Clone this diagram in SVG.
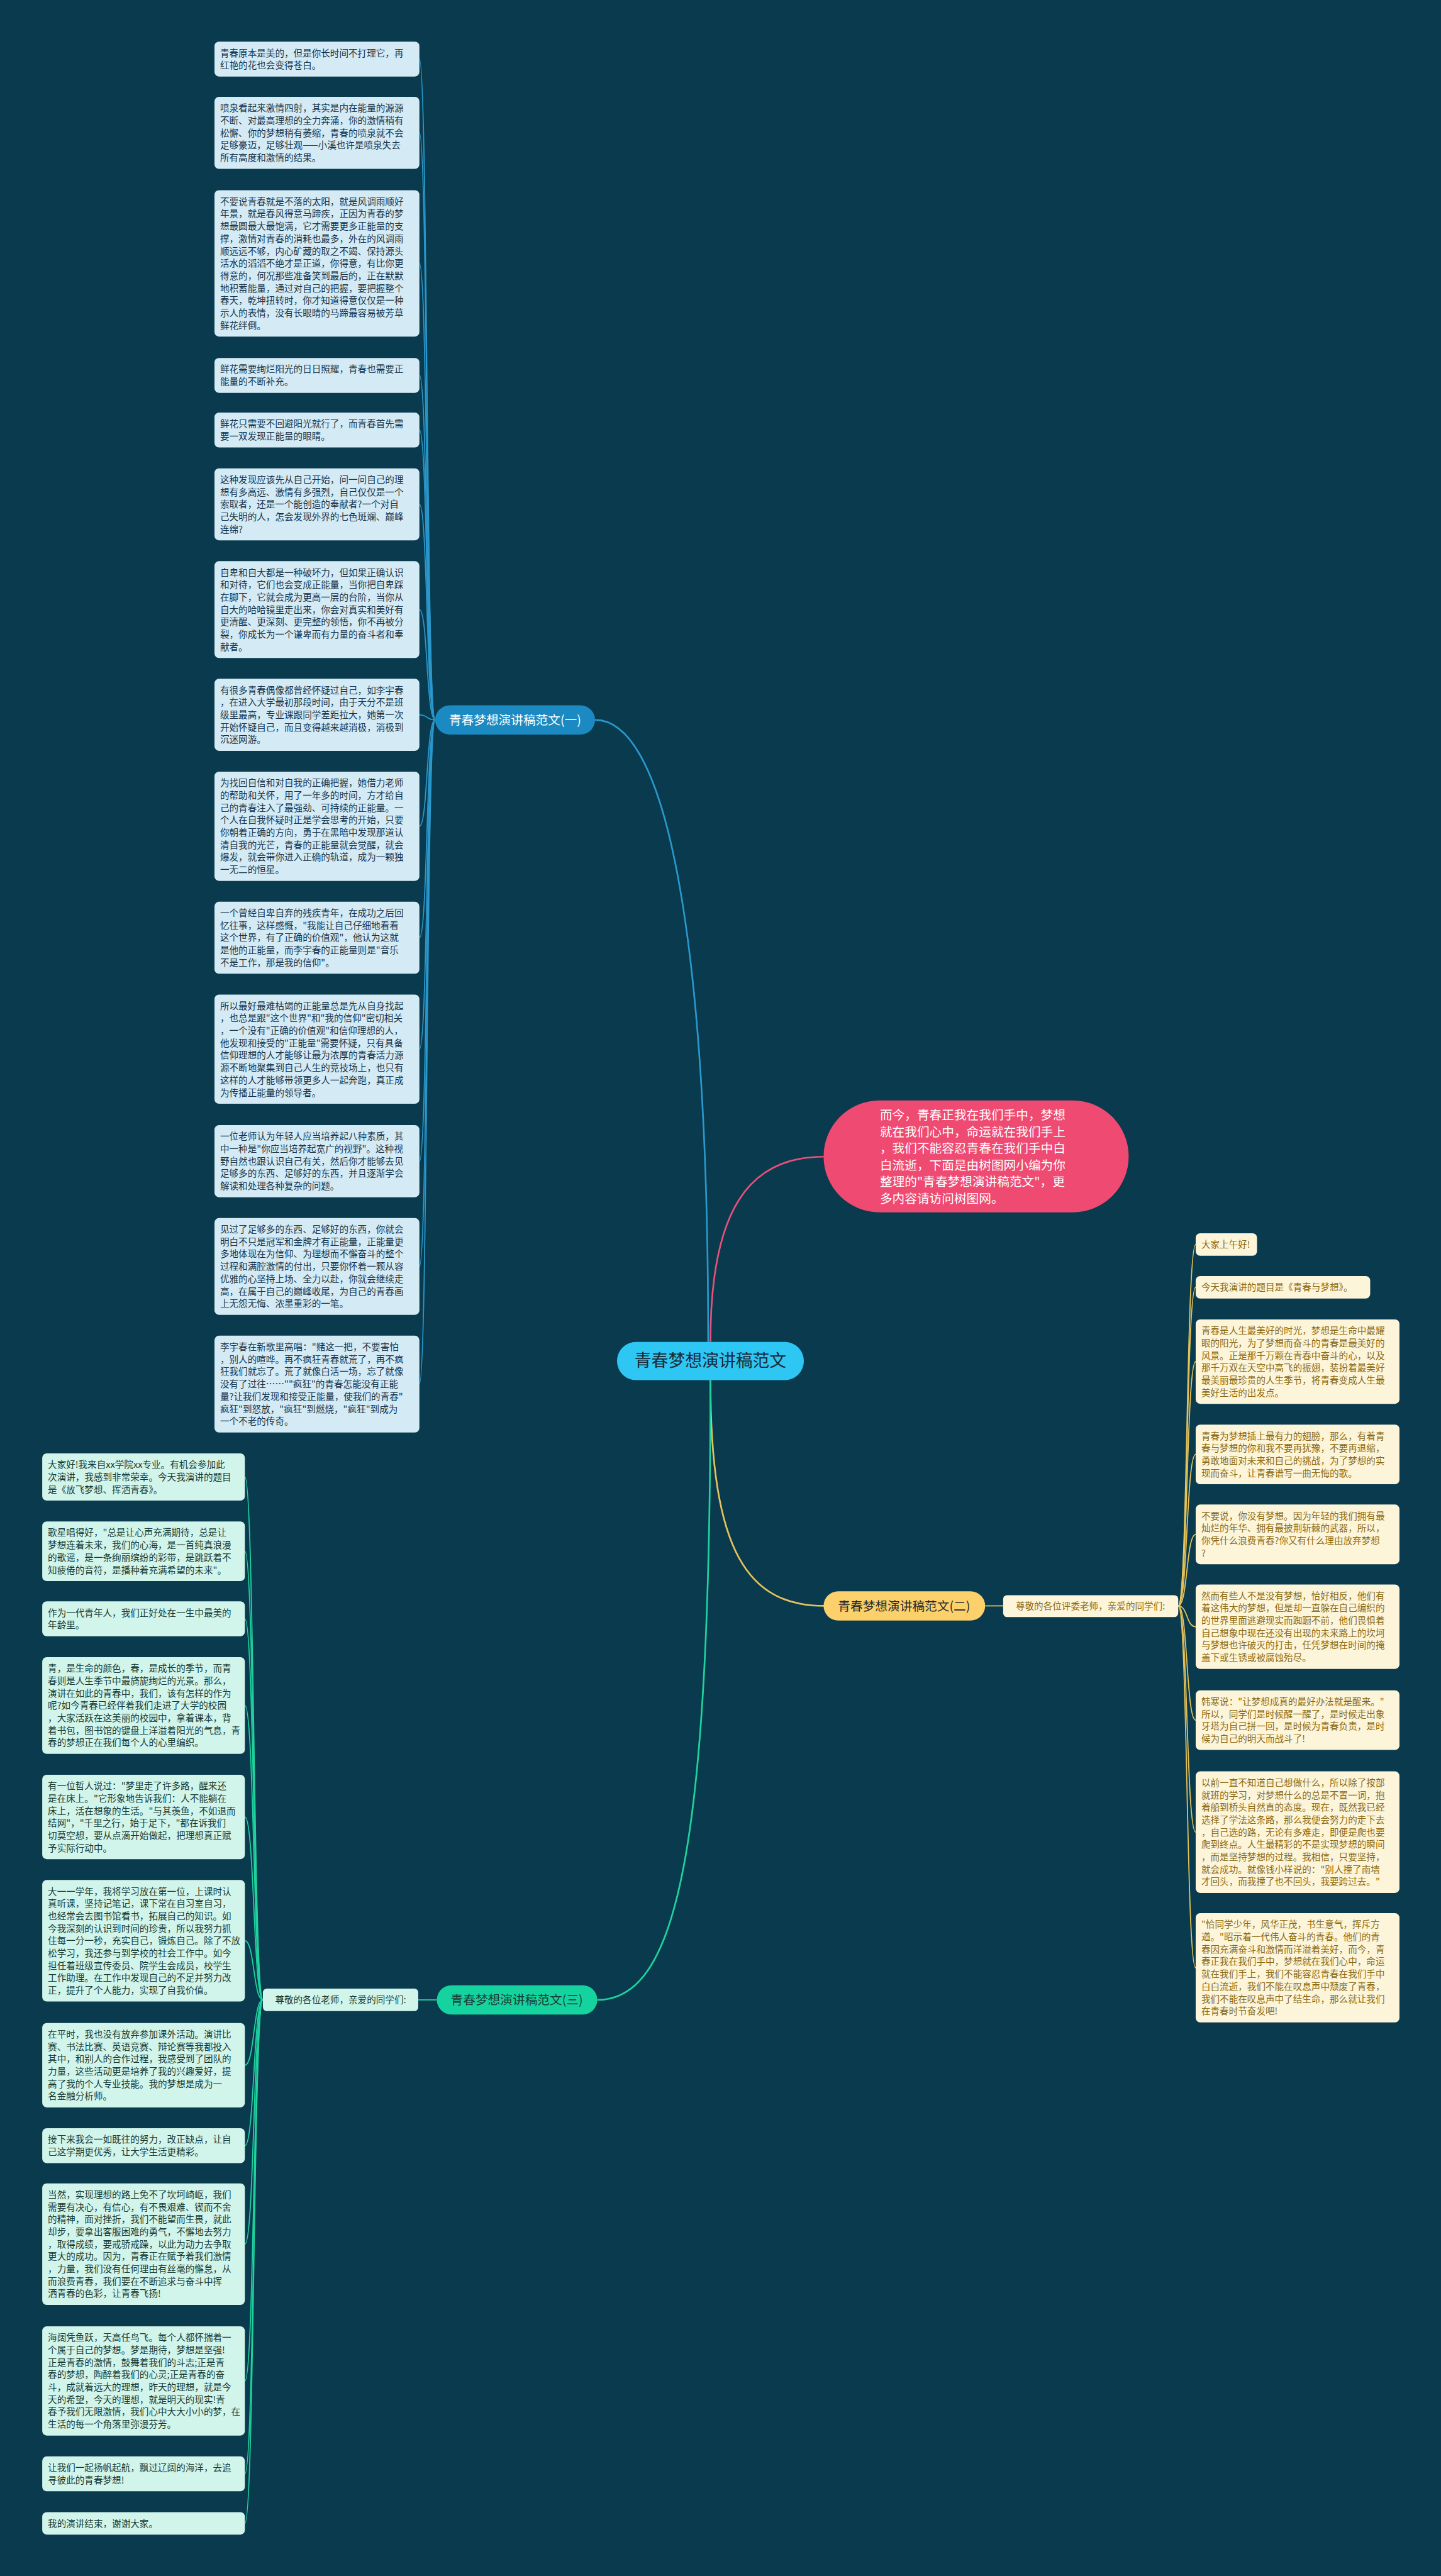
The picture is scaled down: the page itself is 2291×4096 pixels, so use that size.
<svg xmlns="http://www.w3.org/2000/svg" width="2291" height="4096" viewBox="0 0 2291 4096">
<style>
text{font-family:"Noto Sans CJK SC","Noto Sans",sans-serif}
.b1{fill:#d4ebf5}
.b2{fill:#fdf5da}
.b3{fill:#d2f5eb}
.t1{font-size:16.3px;fill:#17344c}
.t2{font-size:16.3px;fill:#8c6a12}
.t3{font-size:16.3px;fill:#163a34}
.c1{fill:none;stroke:#2a98cc;stroke-width:2}
.c2{fill:none;stroke:#e6c35a;stroke-width:2}
.c3{fill:none;stroke:#1fd39f;stroke-width:2}
.main{stroke-width:3}
</style>
<rect x="0" y="0" width="2291" height="4096" fill="#093a4d"/>
<g transform="scale(0.895)">
<g id="connectors">
<path class="c1 main" d="M1258 2384 C1258 1700 1190 1279 1057 1279"/>
<path fill="none" stroke="#e9507a" stroke-width="3" d="M1262 2384 C1262 2150 1330 2055 1463 2055"/>
<path class="c2 main" d="M1262 2452 C1262 2760 1330 2853 1465 2853"/>
<path class="c3 main" d="M1262 2452 C1262 3300 1200 3553 1061 3553"/>
<path class="c1" d="M773 1279 C757 1279 760 105 745 105"/>
<path class="c1" d="M773 1279 C757 1279 760 236 745 236"/>
<path class="c1" d="M773 1279 C757 1279 760 468 745 468"/>
<path class="c1" d="M773 1279 C757 1279 760 667 745 667"/>
<path class="c1" d="M773 1279 C757 1279 760 764 745 764"/>
<path class="c1" d="M773 1279 C757 1279 760 896 745 896"/>
<path class="c1" d="M773 1279 C757 1279 760 1083 745 1083"/>
<path class="c1" d="M773 1279 C757 1279 760 1270 745 1270"/>
<path class="c1" d="M773 1279 C757 1279 760 1468 745 1468"/>
<path class="c1" d="M773 1279 C757 1279 760 1666 745 1666"/>
<path class="c1" d="M773 1279 C757 1279 760 1864 745 1864"/>
<path class="c1" d="M773 1279 C757 1279 760 2063 745 2063"/>
<path class="c1" d="M773 1279 C757 1279 760 2250 745 2250"/>
<path class="c1" d="M773 1279 C757 1279 760 2459 745 2459"/>
<path class="c2" d="M1750 2853 L1782 2853"/>
<path class="c2" d="M2093 2853 C2110 2853 2107 2211 2124 2211"/>
<path class="c2" d="M2093 2853 C2110 2853 2107 2287 2124 2287"/>
<path class="c2" d="M2093 2853 C2110 2853 2107 2419 2124 2419"/>
<path class="c2" d="M2093 2853 C2110 2853 2107 2584 2124 2584"/>
<path class="c2" d="M2093 2853 C2110 2853 2107 2726 2124 2726"/>
<path class="c2" d="M2093 2853 C2110 2853 2107 2890 2124 2890"/>
<path class="c2" d="M2093 2853 C2110 2853 2107 3056 2124 3056"/>
<path class="c2" d="M2093 2853 C2110 2853 2107 3255 2124 3255"/>
<path class="c2" d="M2093 2853 C2110 2853 2107 3496 2124 3496"/>
<path class="c3" d="M776 3553 L743 3553"/>
<path class="c3" d="M467 3553 C450 3553 452 2624 435 2624"/>
<path class="c3" d="M467 3553 C450 3553 452 2756 435 2756"/>
<path class="c3" d="M467 3553 C450 3553 452 2876 435 2876"/>
<path class="c3" d="M467 3553 C450 3553 452 3030 435 3030"/>
<path class="c3" d="M467 3553 C450 3553 452 3228 435 3228"/>
<path class="c3" d="M467 3553 C450 3553 452 3448 435 3448"/>
<path class="c3" d="M467 3553 C450 3553 452 3669 435 3669"/>
<path class="c3" d="M467 3553 C450 3553 452 3812 435 3812"/>
<path class="c3" d="M467 3553 C450 3553 452 3987 435 3987"/>
<path class="c3" d="M467 3553 C450 3553 452 4230 435 4230"/>
<path class="c3" d="M467 3553 C450 3553 452 4395 435 4395"/>
<path class="c3" d="M467 3553 C450 3553 452 4483 435 4483"/>
</g>

<g id="root">
<rect x="1096" y="2384" width="332" height="68" rx="34" fill="#2ec6f2"/>
<text x="1262" y="2428" text-anchor="middle" font-size="30" fill="#1b2a36">青春梦想演讲稿范文</text>
</g>

<g id="intro">
<rect x="1463" y="1955" width="542" height="199" rx="99.5" fill="#ee4a72"/>
<text font-size="22" fill="#ffffff"><tspan x="1563" y="1989">而今，青春正我在我们手中，梦想</tspan><tspan x="1563" dy="29.7">就在我们心中，命运就在我们手上</tspan><tspan x="1563" dy="29.7">，我们不能容忍青春在我们手中白</tspan><tspan x="1563" dy="29.7">白流逝，下面是由树图网小编为你</tspan><tspan x="1563" dy="29.7">整理的"青春梦想演讲稿范文"，更</tspan><tspan x="1563" dy="29.7">多内容请访问树图网。</tspan></text>
</g>

<g id="branch1">
<rect x="773" y="1253" width="284" height="52" rx="26" fill="#1c8ac2"/>
<text x="915" y="1287" text-anchor="middle" font-size="22" fill="#ffffff">青春梦想演讲稿范文(一)</text>
</g>
<g id="branch2">
<rect x="1463" y="2827" width="287" height="52" rx="26" fill="#fcd06a"/>
<text x="1606" y="2861" text-anchor="middle" font-size="22" fill="#2a2a2a">青春梦想演讲稿范文(二)</text>
</g>
<g id="branch2-greet">
<rect x="1782" y="2834" width="311" height="39" rx="7" fill="#fdf5da"/>
<text x="1937" y="2859" text-anchor="middle" font-size="16.3" fill="#8c6a12">尊敬的各位评委老师，亲爱的同学们:</text>
</g>
<g id="branch3">
<rect x="776" y="3527" width="285" height="52" rx="26" fill="#15d39e"/>
<text x="918" y="3561" text-anchor="middle" font-size="22" fill="#1c3a36">青春梦想演讲稿范文(三)</text>
</g>
<g id="branch3-greet">
<rect x="467" y="3533" width="276" height="40" rx="7" fill="#d2f5eb"/>
<text x="605" y="3559" text-anchor="middle" font-size="16.3" fill="#163a34">尊敬的各位老师，亲爱的同学们:</text>
</g>

<!-- Branch 1 leaves -->
<g id="n1-1"><rect class="b1" x="381" y="74" width="364" height="62" rx="8"/><text class="t1"><tspan x="391" y="100">青春原本是美的，但是你长时间不打理它，再</tspan><tspan x="391" dy="22">红艳的花也会变得苍白。</tspan></text></g>
<g id="n1-2"><rect class="b1" x="381" y="172" width="364" height="128" rx="8"/><text class="t1"><tspan x="391" y="198">喷泉看起来激情四射，其实是内在能量的源源</tspan><tspan x="391" dy="22">不断、对最高理想的全力奔涌，你的激情稍有</tspan><tspan x="391" dy="22">松懈、你的梦想稍有萎缩，青春的喷泉就不会</tspan><tspan x="391" dy="22">足够豪迈，足够壮观——小溪也许是喷泉失去</tspan><tspan x="391" dy="22">所有高度和激情的结果。</tspan></text></g>
<g id="n1-3"><rect class="b1" x="381" y="338" width="364" height="260" rx="8"/><text class="t1"><tspan x="391" y="364">不要说青春就是不落的太阳，就是风调雨顺好</tspan><tspan x="391" dy="22">年景，就是春风得意马蹄疾，正因为青春的梦</tspan><tspan x="391" dy="22">想最圆最大最饱满，它才需要更多正能量的支</tspan><tspan x="391" dy="22">撑，激情对青春的消耗也最多，外在的风调雨</tspan><tspan x="391" dy="22">顺远远不够，内心矿藏的取之不竭、保持源头</tspan><tspan x="391" dy="22">活水的滔滔不绝才是正道，你得意，有比你更</tspan><tspan x="391" dy="22">得意的，何况那些准备笑到最后的，正在默默</tspan><tspan x="391" dy="22">地积蓄能量，通过对自己的把握，要把握整个</tspan><tspan x="391" dy="22">春天，乾坤扭转时，你才知道得意仅仅是一种</tspan><tspan x="391" dy="22">示人的表情，没有长眼睛的马蹄最容易被芳草</tspan><tspan x="391" dy="22">鲜花绊倒。</tspan></text></g>
<g id="n1-4"><rect class="b1" x="381" y="636" width="364" height="62" rx="8"/><text class="t1"><tspan x="391" y="662">鲜花需要绚烂阳光的日日照耀，青春也需要正</tspan><tspan x="391" dy="22">能量的不断补充。</tspan></text></g>
<g id="n1-5"><rect class="b1" x="381" y="733" width="364" height="62" rx="8"/><text class="t1"><tspan x="391" y="759">鲜花只需要不回避阳光就行了，而青春首先需</tspan><tspan x="391" dy="22">要一双发现正能量的眼睛。</tspan></text></g>
<g id="n1-6"><rect class="b1" x="381" y="832" width="364" height="128" rx="8"/><text class="t1"><tspan x="391" y="858">这种发现应该先从自己开始，问一问自己的理</tspan><tspan x="391" dy="22">想有多高远、激情有多强烈，自己仅仅是一个</tspan><tspan x="391" dy="22">索取者，还是一个能创造的奉献者?一个对自</tspan><tspan x="391" dy="22">己失明的人，怎会发现外界的七色斑斓、巅峰</tspan><tspan x="391" dy="22">连绵?</tspan></text></g>
<g id="n1-7"><rect class="b1" x="381" y="997" width="364" height="172" rx="8"/><text class="t1"><tspan x="391" y="1023">自卑和自大都是一种破坏力，但如果正确认识</tspan><tspan x="391" dy="22">和对待，它们也会变成正能量，当你把自卑踩</tspan><tspan x="391" dy="22">在脚下，它就会成为更高一层的台阶，当你从</tspan><tspan x="391" dy="22">自大的哈哈镜里走出来，你会对真实和美好有</tspan><tspan x="391" dy="22">更清醒、更深刻、更完整的领悟，你不再被分</tspan><tspan x="391" dy="22">裂，你成长为一个谦卑而有力量的奋斗者和奉</tspan><tspan x="391" dy="22">献者。</tspan></text></g>
<g id="n1-8"><rect class="b1" x="381" y="1206" width="364" height="128" rx="8"/><text class="t1"><tspan x="391" y="1232">有很多青春偶像都曾经怀疑过自己，如李宇春</tspan><tspan x="391" dy="22">，在进入大学最初那段时间，由于天分不是班</tspan><tspan x="391" dy="22">级里最高，专业课跟同学差距拉大，她第一次</tspan><tspan x="391" dy="22">开始怀疑自己，而且变得越来越消极，消极到</tspan><tspan x="391" dy="22">沉迷网游。</tspan></text></g>
<g id="n1-9"><rect class="b1" x="381" y="1371" width="364" height="194" rx="8"/><text class="t1"><tspan x="391" y="1397">为找回自信和对自我的正确把握，她借力老师</tspan><tspan x="391" dy="22">的帮助和关怀，用了一年多的时间，方才给自</tspan><tspan x="391" dy="22">己的青春注入了最强劲、可持续的正能量。一</tspan><tspan x="391" dy="22">个人在自我怀疑时正是学会思考的开始，只要</tspan><tspan x="391" dy="22">你朝着正确的方向，勇于在黑暗中发现那道认</tspan><tspan x="391" dy="22">清自我的光芒，青春的正能量就会觉醒，就会</tspan><tspan x="391" dy="22">爆发，就会带你进入正确的轨道，成为一颗独</tspan><tspan x="391" dy="22">一无二的恒星。</tspan></text></g>
<g id="n1-10"><rect class="b1" x="381" y="1602" width="364" height="128" rx="8"/><text class="t1"><tspan x="391" y="1628">一个曾经自卑自弃的残疾青年，在成功之后回</tspan><tspan x="391" dy="22">忆往事，这样感慨，"我能让自己仔细地看看</tspan><tspan x="391" dy="22">这个世界，有了正确的价值观"，他认为这就</tspan><tspan x="391" dy="22">是他的正能量，而李宇春的正能量则是"音乐</tspan><tspan x="391" dy="22">不是工作，那是我的信仰"。</tspan></text></g>
<g id="n1-11"><rect class="b1" x="381" y="1767" width="364" height="194" rx="8"/><text class="t1"><tspan x="391" y="1793">所以最好最难枯竭的正能量总是先从自身找起</tspan><tspan x="391" dy="22">，也总是跟"这个世界"和"我的信仰"密切相关</tspan><tspan x="391" dy="22">，一个没有"正确的价值观"和信仰理想的人，</tspan><tspan x="391" dy="22">他发现和接受的"正能量"需要怀疑，只有具备</tspan><tspan x="391" dy="22">信仰理想的人才能够让最为浓厚的青春活力源</tspan><tspan x="391" dy="22">源不断地聚集到自己人生的竞技场上，也只有</tspan><tspan x="391" dy="22">这样的人才能够带领更多人一起奔跑，真正成</tspan><tspan x="391" dy="22">为传播正能量的领导者。</tspan></text></g>
<g id="n1-12"><rect class="b1" x="381" y="1999" width="364" height="128" rx="8"/><text class="t1"><tspan x="391" y="2025">一位老师认为年轻人应当培养起八种素质，其</tspan><tspan x="391" dy="22">中一种是"你应当培养起宽广的视野"。这种视</tspan><tspan x="391" dy="22">野自然也跟认识自己有关，然后你才能够去见</tspan><tspan x="391" dy="22">足够多的东西、足够好的东西，并且逐渐学会</tspan><tspan x="391" dy="22">解读和处理各种复杂的问题。</tspan></text></g>
<g id="n1-13"><rect class="b1" x="381" y="2164" width="364" height="172" rx="8"/><text class="t1"><tspan x="391" y="2190">见过了足够多的东西、足够好的东西，你就会</tspan><tspan x="391" dy="22">明白不只是冠军和金牌才有正能量，正能量更</tspan><tspan x="391" dy="22">多地体现在为信仰、为理想而不懈奋斗的整个</tspan><tspan x="391" dy="22">过程和满腔激情的付出，只要你怀着一颗从容</tspan><tspan x="391" dy="22">优雅的心坚持上场、全力以赴，你就会继续走</tspan><tspan x="391" dy="22">高，在属于自己的巅峰收尾，为自己的青春画</tspan><tspan x="391" dy="22">上无怨无悔、浓墨重彩的一笔。</tspan></text></g>
<g id="n1-14"><rect class="b1" x="381" y="2373" width="364" height="172" rx="8"/><text class="t1"><tspan x="391" y="2399">李宇春在新歌里高唱："赌这一把，不要害怕</tspan><tspan x="391" dy="22">，别人的喧哗。再不疯狂青春就荒了，再不疯</tspan><tspan x="391" dy="22">狂我们就忘了。荒了就像白活一场，忘了就像</tspan><tspan x="391" dy="22">没有了过往……""疯狂"的青春怎能没有正能</tspan><tspan x="391" dy="22">量?让我们发现和接受正能量，使我们的青春"</tspan><tspan x="391" dy="22">疯狂"到怒放，"疯狂"到燃烧，"疯狂"到成为</tspan><tspan x="391" dy="22">一个不老的传奇。</tspan></text></g>

<!-- Branch 2 leaves -->
<g id="n2-1"><rect class="b2" x="2124" y="2191" width="109" height="40" rx="8"/><text class="t2"><tspan x="2134" y="2217">大家上午好!</tspan></text></g>
<g id="n2-2"><rect class="b2" x="2124" y="2267" width="310" height="40" rx="8"/><text class="t2"><tspan x="2134" y="2293">今天我演讲的题目是《青春与梦想》。</tspan></text></g>
<g id="n2-3"><rect class="b2" x="2124" y="2344" width="362" height="150" rx="8"/><text class="t2"><tspan x="2134" y="2370">青春是人生最美好的时光，梦想是生命中最耀</tspan><tspan x="2134" dy="22">眼的阳光，为了梦想而奋斗的青春是最美好的</tspan><tspan x="2134" dy="22">风景。正是那千万颗在青春中奋斗的心，以及</tspan><tspan x="2134" dy="22">那千万双在天空中高飞的振翅，装扮着最美好</tspan><tspan x="2134" dy="22">最美丽最珍贵的人生季节，将青春变成人生最</tspan><tspan x="2134" dy="22">美好生活的出发点。</tspan></text></g>
<g id="n2-4"><rect class="b2" x="2124" y="2531" width="362" height="106" rx="8"/><text class="t2"><tspan x="2134" y="2557">青春为梦想插上最有力的翅膀，那么，有着青</tspan><tspan x="2134" dy="22">春与梦想的你和我不要再犹豫，不要再退缩，</tspan><tspan x="2134" dy="22">勇敢地面对未来和自己的挑战，为了梦想的实</tspan><tspan x="2134" dy="22">现而奋斗，让青春谱写一曲无悔的歌。</tspan></text></g>
<g id="n2-5"><rect class="b2" x="2124" y="2673" width="362" height="106" rx="8"/><text class="t2"><tspan x="2134" y="2699">不要说，你没有梦想。因为年轻的我们拥有最</tspan><tspan x="2134" dy="22">灿烂的年华、拥有最披荆斩棘的武器，所以，</tspan><tspan x="2134" dy="22">你凭什么浪费青春?你又有什么理由放弃梦想</tspan><tspan x="2134" dy="22">?</tspan></text></g>
<g id="n2-6"><rect class="b2" x="2124" y="2815" width="362" height="150" rx="8"/><text class="t2"><tspan x="2134" y="2841">然而有些人不是没有梦想，恰好相反，他们有</tspan><tspan x="2134" dy="22">着这伟大的梦想，但是却一直躲在自己编织的</tspan><tspan x="2134" dy="22">的世界里面逃避现实而踟蹰不前，他们畏惧着</tspan><tspan x="2134" dy="22">自己想象中现在还没有出现的未来路上的坎坷</tspan><tspan x="2134" dy="22">与梦想也许破灭的打击，任凭梦想在时间的掩</tspan><tspan x="2134" dy="22">盖下或生锈或被腐蚀殆尽。</tspan></text></g>
<g id="n2-7"><rect class="b2" x="2124" y="3003" width="362" height="106" rx="8"/><text class="t2"><tspan x="2134" y="3029">韩寒说："让梦想成真的最好办法就是醒来。"</tspan><tspan x="2134" dy="22">所以，同学们是时候醒一醒了，是时候走出象</tspan><tspan x="2134" dy="22">牙塔为自己拼一回，是时候为青春负责，是时</tspan><tspan x="2134" dy="22">候为自己的明天而战斗了!</tspan></text></g>
<g id="n2-8"><rect class="b2" x="2124" y="3147" width="362" height="216" rx="8"/><text class="t2"><tspan x="2134" y="3173">以前一直不知道自己想做什么，所以除了按部</tspan><tspan x="2134" dy="22">就班的学习，对梦想什么的总是不置一词，抱</tspan><tspan x="2134" dy="22">着船到桥头自然直的态度。现在，既然我已经</tspan><tspan x="2134" dy="22">选择了学法这条路，那么我便会努力的走下去</tspan><tspan x="2134" dy="22">，自己选的路，无论有多难走，即便是爬也要</tspan><tspan x="2134" dy="22">爬到终点。人生最精彩的不是实现梦想的瞬间</tspan><tspan x="2134" dy="22">，而是坚持梦想的过程。我相信，只要坚持，</tspan><tspan x="2134" dy="22">就会成功。就像钱小样说的："别人撞了南墙</tspan><tspan x="2134" dy="22">才回头，而我撞了也不回头，我要跨过去。"</tspan></text></g>
<g id="n2-9"><rect class="b2" x="2124" y="3399" width="362" height="194" rx="8"/><text class="t2"><tspan x="2134" y="3425">"恰同学少年，风华正茂，书生意气，挥斥方</tspan><tspan x="2134" dy="22">遒。"昭示着一代伟人奋斗的青春。他们的青</tspan><tspan x="2134" dy="22">春因充满奋斗和激情而洋溢着美好，而今，青</tspan><tspan x="2134" dy="22">春正我在我们手中，梦想就在我们心中，命运</tspan><tspan x="2134" dy="22">就在我们手上，我们不能容忍青春在我们手中</tspan><tspan x="2134" dy="22">白白流逝，我们不能在叹息声中颓废了青春，</tspan><tspan x="2134" dy="22">我们不能在叹息声中了结生命，那么就让我们</tspan><tspan x="2134" dy="22">在青春时节奋发吧!</tspan></text></g>

<!-- Branch 3 leaves -->
<g id="n3-1"><rect class="b3" x="75" y="2582" width="360" height="84" rx="8"/><text class="t3"><tspan x="85" y="2608">大家好!我来自xx学院xx专业。有机会参加此</tspan><tspan x="85" dy="22">次演讲，我感到非常荣幸。今天我演讲的题目</tspan><tspan x="85" dy="22">是《放飞梦想、挥洒青春》。</tspan></text></g>
<g id="n3-2"><rect class="b3" x="75" y="2703" width="360" height="106" rx="8"/><text class="t3"><tspan x="85" y="2729">歌星唱得好，"总是让心声充满期待，总是让</tspan><tspan x="85" dy="22">梦想连着未来，我们的心海，是一首纯真浪漫</tspan><tspan x="85" dy="22">的歌谣，是一条绚丽缤纷的彩带，是跳跃着不</tspan><tspan x="85" dy="22">知疲倦的音符，是播种着充满希望的未来"。</tspan></text></g>
<g id="n3-3"><rect class="b3" x="75" y="2845" width="360" height="62" rx="8"/><text class="t3"><tspan x="85" y="2871">作为一代青年人，我们正好处在一生中最美的</tspan><tspan x="85" dy="22">年龄里。</tspan></text></g>
<g id="n3-4"><rect class="b3" x="75" y="2944" width="360" height="172" rx="8"/><text class="t3"><tspan x="85" y="2970">青，是生命的颜色，春，是成长的季节，而青</tspan><tspan x="85" dy="22">春则是人生季节中最旖旎绚烂的光景。那么，</tspan><tspan x="85" dy="22">演讲在如此的青春中，我们，该有怎样的作为</tspan><tspan x="85" dy="22">呢?如今青春已经伴着我们走进了大学的校园</tspan><tspan x="85" dy="22">，大家活跃在这美丽的校园中，拿着课本，背</tspan><tspan x="85" dy="22">着书包，图书馆的键盘上洋溢着阳光的气息，青</tspan><tspan x="85" dy="22">春的梦想正在我们每个人的心里编织。</tspan></text></g>
<g id="n3-5"><rect class="b3" x="75" y="3153" width="360" height="150" rx="8"/><text class="t3"><tspan x="85" y="3179">有一位哲人说过："梦里走了许多路，醒来还</tspan><tspan x="85" dy="22">是在床上。"它形象地告诉我们：人不能躺在</tspan><tspan x="85" dy="22">床上，活在想象的生活。"与其羡鱼，不如退而</tspan><tspan x="85" dy="22">结网"，"千里之行，始于足下，"都在诉我们</tspan><tspan x="85" dy="22">切莫空想，要从点滴开始做起，把理想真正赋</tspan><tspan x="85" dy="22">予实际行动中。</tspan></text></g>
<g id="n3-6"><rect class="b3" x="75" y="3340" width="360" height="216" rx="8"/><text class="t3"><tspan x="85" y="3366">大一一学年，我将学习放在第一位，上课时认</tspan><tspan x="85" dy="22">真听课，坚持记笔记，课下常在自习室自习，</tspan><tspan x="85" dy="22">也经常会去图书馆看书，拓展自己的知识。如</tspan><tspan x="85" dy="22">今我深刻的认识到时间的珍贵，所以我努力抓</tspan><tspan x="85" dy="22">住每一分一秒，充实自己，锻炼自己。除了不放</tspan><tspan x="85" dy="22">松学习，我还参与到学校的社会工作中。如今</tspan><tspan x="85" dy="22">担任着班级宣传委员、院学生会成员，校学生</tspan><tspan x="85" dy="22">工作助理。在工作中发现自己的不足并努力改</tspan><tspan x="85" dy="22">正，提升了个人能力，实现了自我价值。</tspan></text></g>
<g id="n3-7"><rect class="b3" x="75" y="3594" width="360" height="150" rx="8"/><text class="t3"><tspan x="85" y="3620">在平时，我也没有放弃参加课外活动。演讲比</tspan><tspan x="85" dy="22">赛、书法比赛、英语竞赛、辩论赛等我都投入</tspan><tspan x="85" dy="22">其中，和别人的合作过程，我感受到了团队的</tspan><tspan x="85" dy="22">力量，这些活动更是培养了我的兴趣爱好，提</tspan><tspan x="85" dy="22">高了我的个人专业技能。我的梦想是成为一</tspan><tspan x="85" dy="22">名金融分析师。</tspan></text></g>
<g id="n3-8"><rect class="b3" x="75" y="3781" width="360" height="62" rx="8"/><text class="t3"><tspan x="85" y="3807">接下来我会一如既往的努力，改正缺点，让自</tspan><tspan x="85" dy="22">己这学期更优秀，让大学生活更精彩。</tspan></text></g>
<g id="n3-9"><rect class="b3" x="75" y="3879" width="360" height="216" rx="8"/><text class="t3"><tspan x="85" y="3905">当然，实现理想的路上免不了坎坷崎岖，我们</tspan><tspan x="85" dy="22">需要有决心，有信心，有不畏艰难、锲而不舍</tspan><tspan x="85" dy="22">的精神，面对挫折，我们不能望而生畏，就此</tspan><tspan x="85" dy="22">却步，要拿出客服困难的勇气，不懈地去努力</tspan><tspan x="85" dy="22">，取得成绩，要戒骄戒躁，以此为动力去争取</tspan><tspan x="85" dy="22">更大的成功。因为，青春正在赋予着我们激情</tspan><tspan x="85" dy="22">，力量，我们没有任何理由有丝毫的懈怠，从</tspan><tspan x="85" dy="22">而浪费青春，我们要在不断追求与奋斗中挥</tspan><tspan x="85" dy="22">洒青春的色彩，让青春飞扬!</tspan></text></g>
<g id="n3-10"><rect class="b3" x="75" y="4133" width="360" height="194" rx="8"/><text class="t3"><tspan x="85" y="4159">海阔凭鱼跃，天高任鸟飞。每个人都怀揣着一</tspan><tspan x="85" dy="22">个属于自己的梦想。梦是期待，梦想是坚强!</tspan><tspan x="85" dy="22">正是青春的激情，鼓舞着我们的斗志;正是青</tspan><tspan x="85" dy="22">春的梦想，陶醉着我们的心灵;正是青春的奋</tspan><tspan x="85" dy="22">斗，成就着远大的理想，昨天的理想，就是今</tspan><tspan x="85" dy="22">天的希望，今天的理想，就是明天的现实!青</tspan><tspan x="85" dy="22">春予我们无限激情，我们心中大大小小的梦，在</tspan><tspan x="85" dy="22">生活的每一个角落里弥漫芬芳。</tspan></text></g>
<g id="n3-11"><rect class="b3" x="75" y="4364" width="360" height="62" rx="8"/><text class="t3"><tspan x="85" y="4390">让我们一起扬帆起航，飘过辽阔的海洋，去追</tspan><tspan x="85" dy="22">寻彼此的青春梦想!</tspan></text></g>
<g id="n3-12"><rect class="b3" x="75" y="4463" width="360" height="40" rx="8"/><text class="t3"><tspan x="85" y="4489">我的演讲结束，谢谢大家。</tspan></text></g>
</g>
</svg>
